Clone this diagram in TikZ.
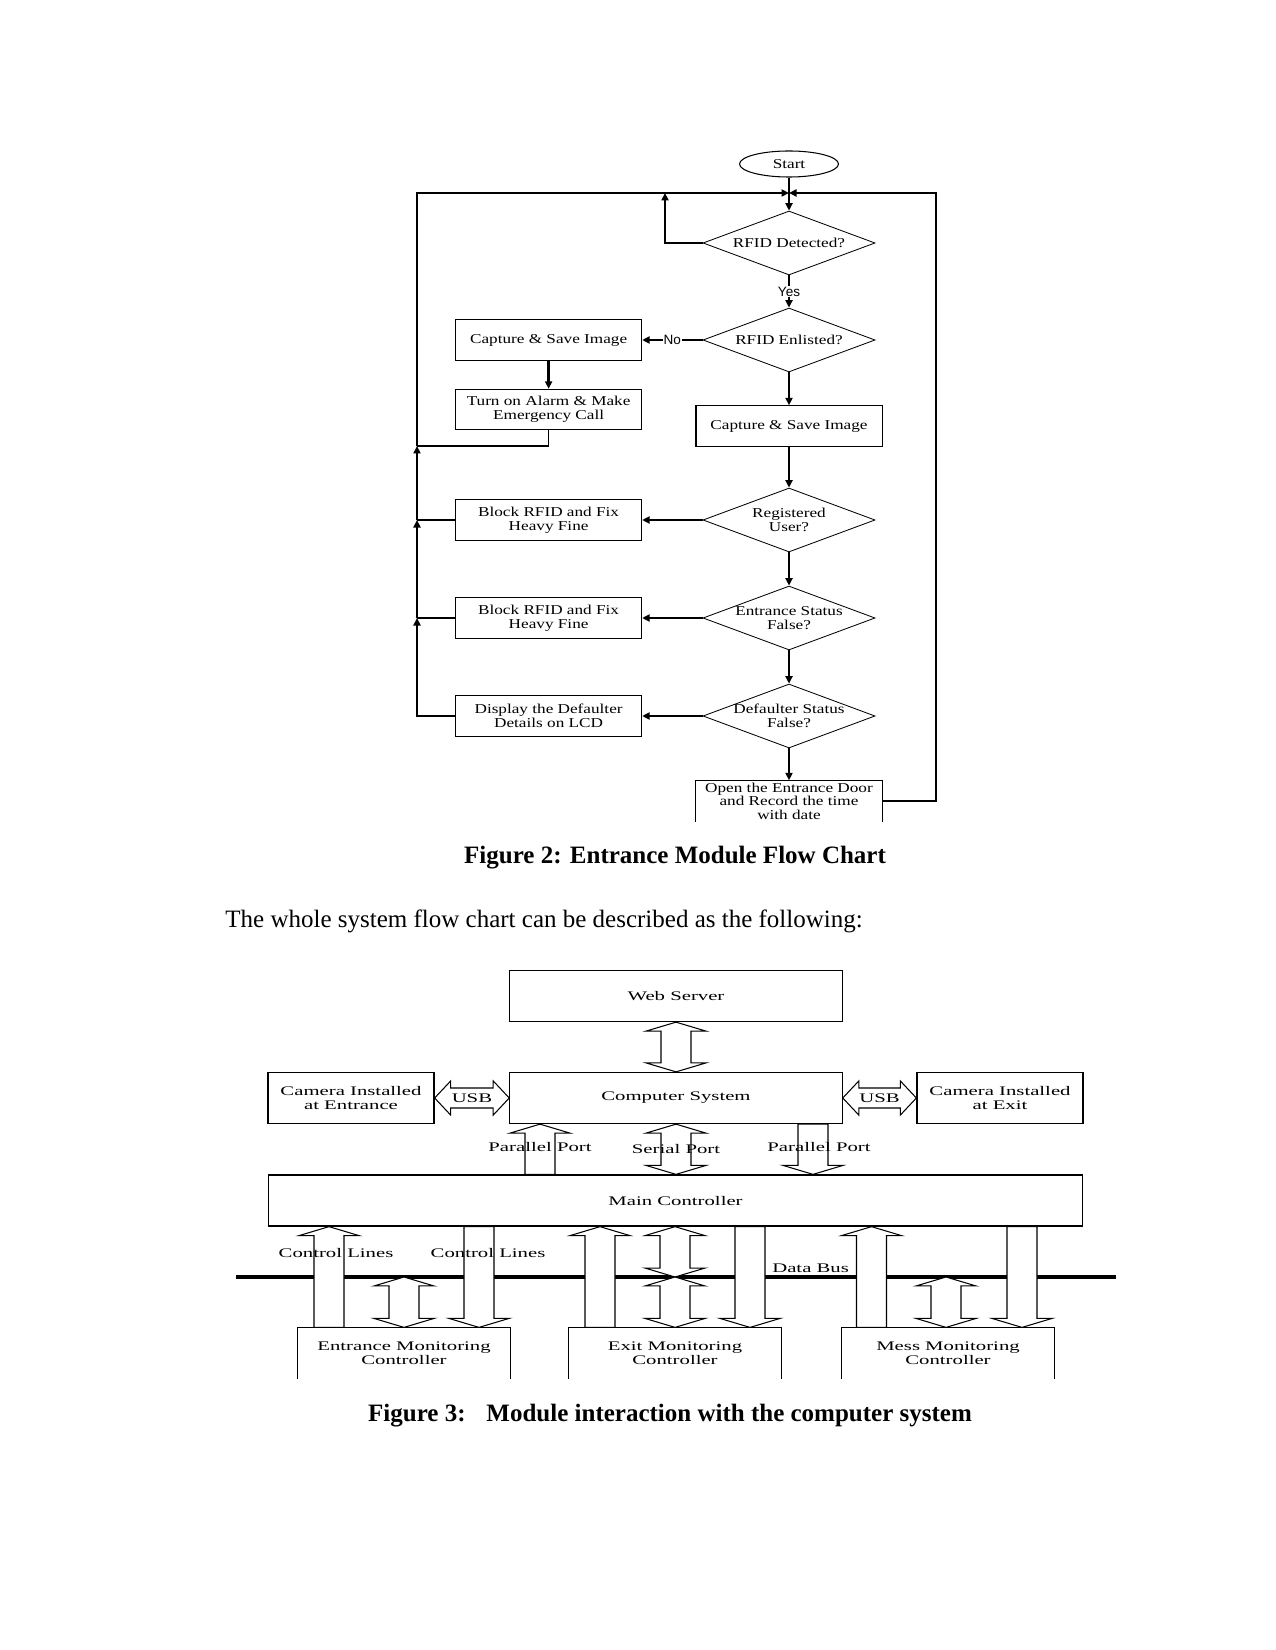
\documentclass[tikz,border=0pt]{standalone}
\usepackage{fontspec}
\setmainfont{Liberation Serif}
\newfontfamily\flowfont[FakeStretch=1.27]{Liberation Serif}
\newfontfamily\modfont[FakeStretch=1.58]{Liberation Serif}
\newfontfamily\labfont{Liberation Sans}
\usetikzlibrary{shapes.geometric,calc,arrows.meta}

\begin{document}
\begin{tikzpicture}[x=0.48pt,y=-0.48pt,
  flowtxt/.style={font=\flowfont\fontsize{6.5pt}{6.5pt}\selectfont, align=center},
  modtxt/.style={font=\modfont\fontsize{6.3pt}{6.8pt}\selectfont, align=center},
  process/.style={draw, line width=0.5pt, flowtxt, minimum width=89.3pt, minimum height=19.4pt, inner sep=0.5pt},
  decision/.style={draw, diamond, line width=0.4pt, minimum width=82.6pt, minimum height=30.7pt, inner sep=0pt},
  terminal/.style={draw, ellipse, line width=0.5pt, flowtxt, minimum width=47.5pt, minimum height=12.5pt, inner sep=0pt},
  block/.style={draw, line width=0.6pt, modtxt, inner sep=0.5pt, minimum height=24.5pt},
  tip/.style={-{Triangle[length=3.6pt,width=3.4pt]}},
  mainflow/.style={line width=1.3pt, tip},
  sideflow/.style={line width=0.9pt, tip},
  backline/.style={line width=0.8pt},
  bus/.style={line width=1.6pt},
  arrdims/.code n args={3}{\def\shaftw{#1}\def\headw{#2}\def\headl{#3}},
  arrdims={7.2pt}{14.4pt}{4.3pt},
  hollow/.style={draw, line width=0.5pt, fill=white},
  one way/.style={hollow, to path={let \p1=($(\tikztotarget)!\headl!(\tikztostart)$) in
      ($(\tikztostart)!\shaftw!90:(\tikztotarget)$) -- ($(\p1)!\shaftw!90:(\tikztotarget)$)
      -- ($(\p1)!\headw!90:(\tikztotarget)$) -- (\tikztotarget)
      -- ($(\p1)!\headw!-90:(\tikztotarget)$) -- ($(\p1)!\shaftw!-90:(\tikztotarget)$)
      -- ($(\tikztostart)!\shaftw!-90:(\tikztotarget)$) -- cycle}},
  two way/.style={hollow, to path={let \p1=($(\tikztotarget)!\headl!(\tikztostart)$),
      \p2=($(\tikztostart)!\headl!(\tikztotarget)$) in
      (\tikztostart) -- ($(\p2)!\headw!90:(\tikztotarget)$) -- ($(\p2)!\shaftw!90:(\tikztotarget)$)
      -- ($(\p1)!\shaftw!90:(\tikztotarget)$) -- ($(\p1)!\headw!90:(\tikztotarget)$) -- (\tikztotarget)
      -- ($(\p1)!\headw!-90:(\tikztotarget)$) -- ($(\p1)!\shaftw!-90:(\tikztotarget)$)
      -- ($(\p2)!\shaftw!-90:(\tikztotarget)$) -- ($(\p2)!\headw!-90:(\tikztotarget)$) -- cycle}}
]
\fill[white] (0,0) rectangle (1275,1650);

% Figure 2
\node[terminal] (start) at (789,164) {Start};
\node[decision, label={[flowtxt]center:RFID Detected?}] (det) at (789,243) {};
\node[decision, label={[flowtxt]center:RFID Enlisted?}] (enl) at (789,340) {};
\node[process] (capL) at (548.6,340) {Capture \& Save Image};
\node[process] (alarm) at (548.6,409.5) {Turn on Alarm \& Make\\Emergency Call};
\node[process] (capR) at (789,426) {Capture \& Save Image};
\node[decision, label={[flowtxt]center:{Registered\\User?}}] (reg) at (789,520) {};
\node[process] (blk1) at (548.6,520) {Block RFID and Fix\\Heavy Fine};
\node[decision, label={[flowtxt]center:{Entrance Status\\False?}}] (ent) at (789,618) {};
\node[process] (blk2) at (548.6,618) {Block RFID and Fix\\Heavy Fine};
\node[decision, label={[flowtxt]center:{Defaulter Status\\False?}}] (dflt) at (789,716) {};
\node[process] (disp) at (548.6,716) {Display the Defaulter\\Details on LCD};
\node[process, draw=none, inner sep=0pt] (open) at (789,801) {Open the Entrance Door\\and Record the time\\with date};
\draw[line width=0.5pt] (open.south west) -- (open.north west) -- (open.north east) -- (open.south east);

\coordinate (jtop) at (789,193);
\coordinate (lcorner) at (417,193);
\coordinate (rcorner) at (936,193);
\coordinate (dloop) at (665,193);
\coordinate (ret) at (417,446);

\draw[mainflow] (start) -- (det);
\draw[sideflow] (det.west) -| (dloop);
\draw[mainflow] (det) -- node[fill=white, inner sep=0.5pt, font=\labfont\fontsize{6.5pt}{7pt}\selectfont] {Yes} (enl);
\draw[sideflow] (enl.west) -- node[fill=white, inner sep=0.5pt, font=\labfont\fontsize{6.5pt}{7pt}\selectfont] {No} (capL.east);
\draw[mainflow] (capL) -- (alarm);
\draw[mainflow] (enl) -- (capR);
\draw[mainflow] (capR) -- (reg);
\draw[mainflow] (reg) -- (ent);
\draw[mainflow] (ent) -- (dflt);
\draw[mainflow] (dflt) -- (open.north);
\draw[sideflow] (reg.west) -- (blk1.east);
\draw[sideflow] (ent.west) -- (blk2.east);
\draw[sideflow] (dflt.west) -- (disp.east);

\draw[backline] (alarm.south) |- (ret);
\draw[backline] (blk1.west) -- (blk1.west -| lcorner);
\draw[backline] (blk2.west) -- (blk2.west -| lcorner);
\draw[backline, tip] (disp.west) -| (blk2.west -| lcorner);
\draw[backline, tip] (blk2.west -| lcorner) -- (blk1.west -| lcorner);
\draw[backline, tip] (blk1.west -| lcorner) -- (ret);
\draw[backline, tip] (ret) -- (lcorner) -- (jtop);
\draw[backline, tip] (open.east) -| (rcorner) -- (jtop);

\node[anchor=base, inner sep=0pt, font=\bfseries\fontsize{12pt}{14pt}\selectfont] (cap2) at (675,863) {Figure 2: Entrance Module Flow Chart};
\node[anchor=base west, inner sep=0pt, font=\fontsize{12pt}{14pt}\selectfont] (intro) at (225,927) {The whole system flow chart can be described as the following:};

% Figure 3
\node[block, minimum width=159.5pt] (web) at (676,996) {Web Server};
\node[block, minimum width=159.5pt] (comp) at (676,1098) {Computer System};
\node[block, minimum width=79.7pt] (camE) at (351,1098) {Camera Installed\\at Entrance};
\node[block, minimum width=79.7pt] (camX) at (1000,1098) {Camera Installed\\at Exit};
\node[block, minimum width=391pt] (main) at (675.5,1200.5) {Main Controller};
\node[block, draw=none, minimum width=101.3pt, minimum height=24pt] (entM) at (404,1353) {Entrance Monitoring\\Controller};
\node[block, draw=none, minimum width=101.3pt, minimum height=24pt] (exitM) at (675,1353) {Exit Monitoring\\Controller};
\node[block, draw=none, minimum width=101.3pt, minimum height=24pt] (messM) at (948,1353) {Mess Monitoring\\Controller};
\draw[line width=0.6pt] (entM.south west) -- (entM.north west) -- (entM.north east) -- (entM.south east);
\draw[line width=0.6pt] (exitM.south west) -- (exitM.north west) -- (exitM.north east) -- (exitM.south east);
\draw[line width=0.6pt] (messM.south west) -- (messM.north west) -- (messM.north east) -- (messM.south east);

\coordinate (busL) at (236,1277);
\coordinate (busR) at (1116,1277);

\draw[two way] (676,0 |- comp.north) to (676,0 |- web.south);
\draw[two way, arrdims={4.8pt}{8.2pt}{7.7pt}] (camE.east) to (comp.west);
\draw[two way, arrdims={4.8pt}{8.2pt}{7.7pt}] (comp.east) to (camX.west);
\draw[one way] (540,0 |- main.north) to (540,0 |- comp.south);
\draw[two way] (676,0 |- main.north) to (676,0 |- comp.south);
\draw[one way] (813,0 |- comp.south) to (813,0 |- main.north);

\draw[bus] (busL) -- (busR);
\draw[one way] (329,0 |- entM.north) to (329,0 |- main.south);
\draw[two way] (404,0 |- busL) to (404,0 |- entM.north);
\draw[one way] (479,0 |- main.south) to (479,0 |- entM.north);
\draw[one way] (600,0 |- exitM.north) to (600,0 |- main.south);
\draw[two way] (675,0 |- main.south) to (675,0 |- busL);
\draw[two way] (675,0 |- busL) to (675,0 |- exitM.north);
\draw[one way] (750,0 |- main.south) to (750,0 |- exitM.north);
\draw[one way] (871.5,0 |- messM.north) to (871.5,0 |- main.south);
\draw[two way] (946,0 |- busL) to (946,0 |- messM.north);
\draw[one way] (1022,0 |- main.south) to (1022,0 |- messM.north);

\node[modtxt] (usbE) at ($(camE.east)!0.5!(comp.west)$) {USB};
\node[modtxt] (usbX) at ($(comp.east)!0.5!(camX.west)$) {USB};
\node[modtxt] (pp1) at (540,1147) {Parallel Port};
\node[modtxt] (sp) at (676,1149) {Serial Port};
\node[modtxt] (pp2) at (819,1147) {Parallel Port};
\node[modtxt] (cl1) at (336,1253) {Control Lines};
\node[modtxt] (cl2) at (488,1253) {Control Lines};
\node[modtxt] (db) at (810.6,1268) {Data Bus};

\node[anchor=base, inner sep=0pt, font=\bfseries\fontsize{12pt}{14pt}\selectfont] (cap3) at (670,1421) {Figure 3:\hspace{10pt}Module interaction with the computer system};
\end{tikzpicture}
\end{document}
